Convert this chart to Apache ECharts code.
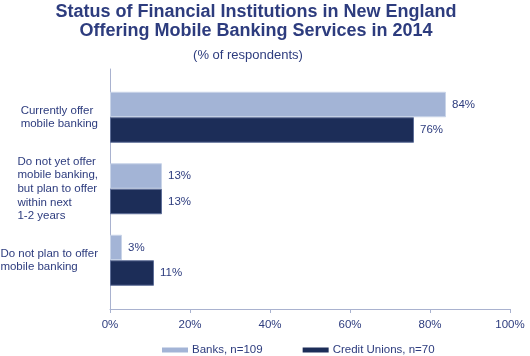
<!DOCTYPE html>
<html>
<head>
<meta charset="utf-8">
<script src="https://cdn.jsdelivr.net/npm/echarts@6/dist/echarts.min.js"></script>
<style>
html,body{margin:0;padding:0;background:#fff;}
#chart{width:530px;height:356px;}
</style>
</head>
<body>
<div id="chart"></div>
<script>
var categories = [
  "Currently offer\nmobile banking",
  "Do not yet offer\nmobile banking,\nbut plan to offer\nwithin next\n1-2 years",
  "Do not plan to offer\nmobile banking"
];
var seriesNames = ["Banks, n=109", "Credit Unions, n=70"];
var banks = [84, 13, 3];
var creditUnions = [76, 13, 11];
var xTicks = [0, 20, 40, 60, 80, 100];

var FONT = "Liberation Sans, Arial, sans-serif";
var TEXT = "#2d3c7e";
var AXIS = "#a9b2cf";

var chart = echarts.init(document.getElementById('chart'), null, {renderer: 'canvas'});
chart.setOption({
  animation: false,
  backgroundColor: '#ffffff',
  textStyle: {fontFamily: FONT},
  title: [
    {
      text: "Status of Financial Institutions in New England\nOffering Mobile Banking Services in 2014",
      left: 251, top: -2, textAlign: 'center',
      textStyle: {fontFamily: FONT, fontSize: 18, fontWeight: 'bold', color: TEXT, lineHeight: 18.5}
    },
    {
      text: "(% of respondents)",
      left: 243, top: 44, textAlign: 'center',
      textStyle: {fontFamily: FONT, fontSize: 13, fontWeight: 'normal', color: TEXT}
    }
  ],
  legend: {
    data: seriesNames,
    left: 157, top: 339,
    itemWidth: 26, itemHeight: 5, itemGap: 40,
    icon: 'rect',
    itemStyle: {borderWidth: 0},
    textStyle: {fontFamily: FONT, fontSize: 11.5, color: TEXT, padding: [0, 0, 0, -1]}
  },
  grid: [
    {left: 110, top: 69, width: 400, height: 240, containLabel: false, outerBoundsMode: 'none'},
    {left: 110, top: 81.5, width: 400, height: 214.5, containLabel: false, outerBoundsMode: 'none'}
  ],
  xAxis: [
    {
      gridIndex: 0, type: 'value', min: xTicks[0], max: xTicks[xTicks.length - 1], interval: 20,
      axisLine: {show: true, lineStyle: {color: AXIS, width: 1}},
      axisTick: {show: true, length: 4, lineStyle: {color: AXIS}},
      splitLine: {show: false},
      axisLabel: {formatter: '{value}%', fontFamily: FONT, fontSize: 11.5, color: TEXT, margin: 10}
    },
    {
      gridIndex: 1, type: 'value', min: 0, max: 100, show: false
    }
  ],
  yAxis: [
    {
      gridIndex: 0, type: 'value', min: 0, max: 1,
      axisLine: {show: true, lineStyle: {color: AXIS, width: 1}},
      axisTick: {show: false}, axisLabel: {show: false}, splitLine: {show: false}
    },
    {
      gridIndex: 1, type: 'category', data: categories, inverse: true,
      axisLine: {show: false}, axisTick: {show: false}, splitLine: {show: false},
      axisLabel: {
        margin: 12,
        fontFamily: FONT, fontSize: 11.5, color: TEXT, lineHeight: 13.7,
        formatter: function (v) {
          return v.split('\n').map(function (s) { return '{l|' + s + '}'; }).join('\n');
        },
        rich: {l: {align: 'left', fontFamily: FONT, fontSize: 11.5, color: TEXT, lineHeight: 13.7}}
      }
    }
  ],
  series: [
    {
      name: seriesNames[0], type: 'bar', xAxisIndex: 1, yAxisIndex: 1,
      data: banks, barWidth: 25.5, barGap: '0%',
      itemStyle: {color: '#a3b4d6', borderColor: '#c9d4e8', borderWidth: 1},
      label: {show: true, position: 'right', distance: 6, formatter: '{c}%',
        fontFamily: FONT, fontSize: 11.5, color: TEXT}
    },
    {
      name: seriesNames[1], type: 'bar', xAxisIndex: 1, yAxisIndex: 1,
      data: creditUnions, barWidth: 25.5, barGap: '0%',
      itemStyle: {color: '#1c2d58', borderColor: '#5f6f98', borderWidth: 1},
      label: {show: true, position: 'right', distance: 6, formatter: '{c}%',
        fontFamily: FONT, fontSize: 11.5, color: TEXT}
    }
  ]
});
</script>
</body>
</html>
